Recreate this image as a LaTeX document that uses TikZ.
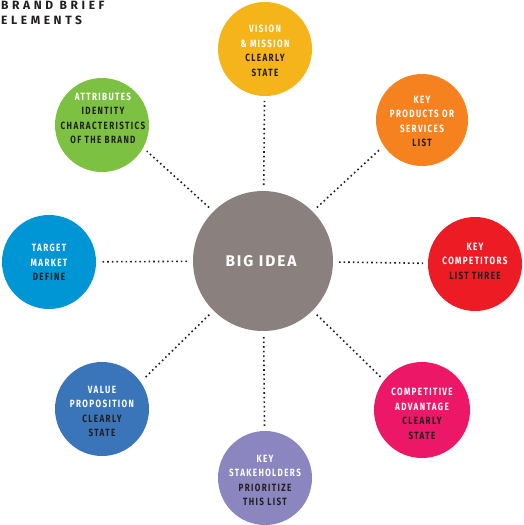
\documentclass[tikz,border=0pt]{standalone}
\usepackage{fontspec}
\newfontfamily\lab{Fira Sans}[LetterSpace=13,FakeStretch=0.77]
\newfontfamily\bigf{Fira Sans}[LetterSpace=12]
\newfontfamily\ttl{Fira Sans}[LetterSpace=30]
\definecolor{cbig}{HTML}{8A807D}
\definecolor{cvision}{HTML}{F4B41A}
\definecolor{cattr}{HTML}{7DC142}
\definecolor{cprod}{HTML}{F5821F}
\definecolor{ctarget}{HTML}{0096D6}
\definecolor{ccomp}{HTML}{ED1C24}
\definecolor{cvalue}{HTML}{3A75BA}
\definecolor{cadv}{HTML}{EC1766}
\definecolor{cstake}{HTML}{8C86C0}
\definecolor{ink}{HTML}{231F20}
\newcommand{\W}[1]{\textcolor{white}{#1}}
\tikzset{
  bubble/.style={circle,draw=none,inner sep=0pt,outer sep=0pt,minimum size=94pt},
  lbl/.style={font=\lab\bfseries\fontsize{10.5}{14.5}\selectfont,align=center,text=ink,inner sep=0pt},
  dotline/.style={line width=1.6pt,dash pattern=on 1.6pt off 3pt,ink,shorten <=6pt,shorten >=5pt}
}
\begin{document}
\begin{tikzpicture}[x=1pt,y=-1pt]
\useasboundingbox (0,0) rectangle (524,525);
\node[bubble,fill=cbig,minimum size=140pt] (big) at (263,261) {};
\node[bubble,fill=cvision] (vision) at (265,49) {};
\node[bubble,fill=cattr] (attr) at (102,125) {};
\node[bubble,fill=cprod,minimum size=92pt] (prod) at (422,120) {};
\node[bubble,fill=ctarget] (target) at (49,262) {};
\node[bubble,fill=ccomp] (comp) at (475,264) {};
\node[bubble,fill=cvalue] (value) at (102,409) {};
\node[bubble,fill=cadv,minimum size=96pt] (adv) at (422,410) {};
\node[bubble,fill=cstake] (stake) at (265,478) {};
\draw[dotline] (big) -- (vision);
\draw[dotline] (big.135) -- (attr.-29);
\draw[dotline] (big.45) -- (prod.214);
\draw[dotline] (big) -- (target);
\draw[dotline] (big) -- (comp);
\draw[dotline] (big.-135) -- (value.35);
\draw[dotline] (big.-45) -- (adv.142);
\draw[dotline] (big) -- (stake);
\node[font=\bigf\bfseries\fontsize{15.5}{18}\selectfont,text=white] (big-t) at (261,261) {BIG IDEA};
\node[lbl] (vision-t) at (265,51) {\W{VISION}\\\W{\& MISSION}\\CLEARLY\\STATE};
\node[lbl] (attr-t) at (103,118.5) {\W{ATTRIBUTES}\\IDENTITY\\CHARACTERISTICS\\OF THE BRAND};
\node[lbl] (prod-t) at (422,121.5) {\W{KEY}\\\W{PRODUCTS OR}\\\W{SERVICES}\\LIST};
\node[lbl] (target-t) at (49,262.5) {\W{TARGET}\\\W{MARKET}\\DEFINE};
\node[lbl] (comp-t) at (475,261) {\W{KEY}\\\W{COMPETITORS}\\LIST THREE};
\node[lbl] (value-t) at (102,411.5) {\W{VALUE}\\\W{PROPOSITION}\\CLEARLY\\STATE};
\node[lbl] (adv-t) at (422,414) {\W{COMPETITIVE}\\\W{ADVANTAGE}\\CLEARLY\\STATE};
\node[lbl] (stake-t) at (265,480.5) {\W{KEY}\\\W{STAKEHOLDERS}\\PRIORITIZE\\THIS LIST};
\node[font=\ttl\bfseries\fontsize{12}{15}\selectfont,text=ink,align=left,anchor=north west,inner sep=0pt] (title) at (1,1) {BRAND BRIEF\\ELEMENTS};
\end{tikzpicture}
\end{document}
